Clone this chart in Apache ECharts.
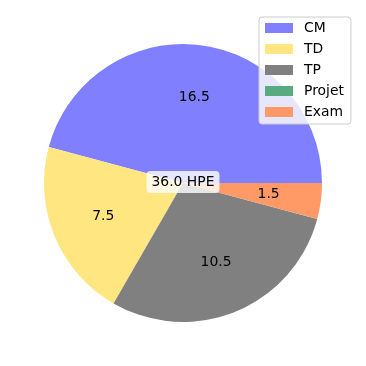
<!DOCTYPE html>
<html><head><meta charset="utf-8">
<script src="https://cdn.jsdelivr.net/npm/echarts@6/dist/echarts.min.js"></script>
<style>html,body{margin:0;padding:0;background:#fff}#c{width:366px;height:366px}</style>
</head><body><div id="c"></div>
<script>
const categories = ['CM', 'TD', 'TP', 'Projet', 'Exam'];
const hours = [16.5, 7.5, 10.5, 0, 1.5];
const colors = ['#8080ff', '#ffe680', '#808080', '#59ab7f', '#ff9966'];
const unitLabel = 'HPE';

const total = hours.reduce((a, b) => a + b, 0);
const font = 'DejaVu Sans';
const FS = 13.9;
const R = 139;

const mainData = categories.map((c, i) => ({ name: c, value: hours[i], itemStyle: { color: colors[i] } }));
const labelData = categories.map((c, i) => ({ name: c, value: hours[i], label: { show: hours[i] > 0 } }));

const chart = echarts.init(document.getElementById('c'));
chart.setOption({
  animation: false,
  title: {
    text: total.toFixed(1) + ' ' + unitLabel,
    left: 'center', top: 171,
    backgroundColor: 'rgba(255,255,255,0.8)',
    borderRadius: 4,
    padding: [3, 5, 3, 5],
    textStyle: { fontFamily: font, fontSize: FS, fontWeight: 'normal', color: '#000', lineHeight: 16 },
    z: 10
  },
  legend: {
    orient: 'vertical', left: 259, top: 17,
    data: categories,
    icon: 'rect', itemWidth: 28, itemHeight: 10, itemGap: 5,
    padding: [3, 7, 4, 6],
    backgroundColor: 'rgba(255,255,255,0.8)',
    borderColor: '#cccccc', borderWidth: 1, borderRadius: 3,
    textStyle: { fontFamily: font, fontSize: FS, color: '#000', lineHeight: 16, padding: [0, 0, 0, 6] },
    selectedMode: false,
    z: 10
  },
  series: [
    {
      type: 'pie', center: [183, 183], radius: [0, R],
      startAngle: 0, clockwise: false,
      data: mainData,
      label: { show: false }, labelLine: { show: false },
      itemStyle: { borderWidth: 0 },
      emphasis: { disabled: true }, silent: true
    },
    {
      type: 'pie', center: [183, 183], radius: [R * 0.2, R],
      startAngle: 0, clockwise: false,
      data: labelData,
      itemStyle: { color: 'rgba(0,0,0,0)', borderWidth: 0 },
      label: { show: true, position: 'inside', formatter: p => p.value.toFixed(1),
               fontFamily: font, fontSize: FS, color: '#000' },
      labelLine: { show: false },
      emphasis: { disabled: true }, silent: true
    }
  ]
});
</script></body></html>
